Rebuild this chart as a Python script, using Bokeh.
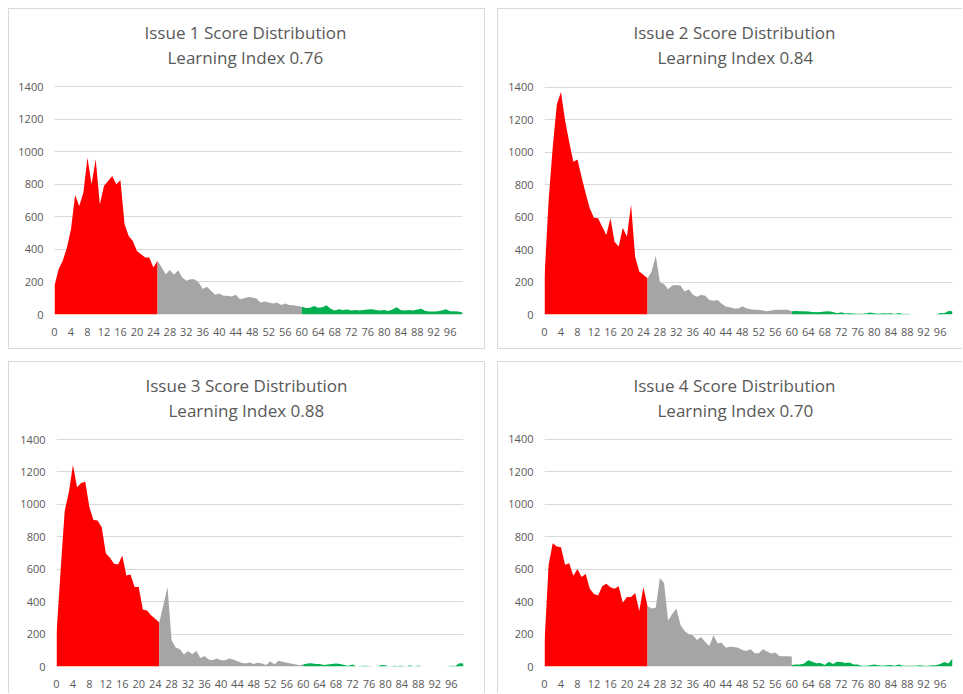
from bokeh.plotting import figure
from bokeh.models import Range1d, FixedTicker, Title
from bokeh.layouts import row, column
from bokeh.embed import file_html
from bokeh.resources import INLINE

# score categories
red_x = list(range(0, 26))
gray_x = list(range(25, 61))
green_x = list(range(60, 100))
x_ticks = list(range(0, 100, 4))
y_ticks = list(range(0, 1401, 200))
y_max = 1400

titles = ["Issue 1 Score Distribution", "Issue 2 Score Distribution",
          "Issue 3 Score Distribution", "Issue 4 Score Distribution"]
subtitles = ["Learning Index 0.76", "Learning Index 0.84",
             "Learning Index 0.88", "Learning Index 0.70"]

# Issue 1
red1 = [176, 278, 330, 411, 524, 735, 667, 749, 964, 800, 954, 677, 790, 821, 851, 800,
        825, 555, 483, 452, 391, 370, 350, 350, 289, 330]
gray1 = [330, 289, 248, 274, 244, 272, 227, 207, 217, 217, 196, 156, 170, 145, 121, 129,
         115, 115, 111, 121, 94, 100, 108, 104, 98, 74, 80, 74, 68, 74, 59, 68, 59, 57, 53, 47]
green1 = [47, 40, 42, 53, 42, 45, 57, 35, 25, 32, 28, 30, 25, 27, 25, 27, 30, 32, 28, 25,
          27, 22, 30, 45, 27, 25, 28, 25, 30, 35, 22, 18, 18, 20, 25, 32, 20, 20, 18, 12]

# Issue 2
red2 = [230, 704, 1032, 1294, 1370, 1195, 1062, 940, 954, 847, 745, 653, 596, 592, 540, 489,
        592, 448, 418, 534, 479, 678, 356, 264, 244, 223]
gray2 = [223, 264, 362, 199, 188, 156, 178, 182, 178, 141, 156, 121, 110, 121, 115, 90,
         84, 90, 66, 49, 45, 37, 37, 51, 39, 33, 29, 29, 25, 20, 25, 29, 29, 29, 29, 20]
green2 = [20, 22, 20, 20, 18, 15, 14, 15, 18, 20, 15, 8, 14, 6, 8, 6, 5, 5, 6, 12,
          8, 5, 8, 6, 8, 3, 10, 3, 5, 2, 0, 0, 0, 0, 0, 0, 10, 8, 22, 20]

# Issue 3
red3 = [203, 592, 961, 1074, 1242, 1105, 1132, 1140, 982, 904, 900, 859, 699, 670, 633, 629,
        685, 562, 568, 490, 490, 351, 346, 316, 295, 271]
gray3 = [271, 380, 490, 162, 117, 107, 74, 96, 76, 96, 53, 64, 43, 39, 49, 39,
         39, 49, 43, 33, 23, 18, 25, 16, 23, 18, 10, 33, 12, 35, 29, 23, 18, 14, 8, 12]
green3 = [12, 18, 20, 15, 15, 10, 12, 15, 18, 15, 10, 5, 12, 0, 3, 5, 3, 0, 0, 10,
          8, 0, 5, 3, 5, 0, 8, 0, 6, 0, 0, 0, 0, 0, 0, 0, 5, 3, 20, 18]

# Issue 4
red4 = [150, 626, 759, 739, 734, 626, 636, 559, 600, 551, 569, 479, 447, 437, 494, 510,
        488, 479, 494, 392, 428, 428, 453, 341, 490, 371]
gray4 = [371, 357, 361, 545, 514, 284, 324, 357, 255, 218, 198, 192, 163, 182, 151, 126,
         192, 143, 147, 116, 122, 120, 116, 102, 96, 106, 82, 82, 106, 92, 80, 86, 65, 63, 63, 61]
green4 = [10, 12, 12, 18, 38, 30, 20, 22, 10, 30, 15, 30, 28, 22, 25, 12, 12, 5, 5, 8,
          12, 8, 5, 8, 10, 5, 12, 5, 5, 5, 5, 8, 5, 5, 8, 8, 15, 28, 18, 50]

RED, GRAY, GREEN = "#ff0000", "#a5a5a5", "#00b050"
TXT = "#595959"
FONT = "Open Sans"


def panel(t1, t2, red, gray, green, w, h, bl, br, ftop, gtop, bb, shadow, off1, off2):
    # frame spans from ftop to (h - bb); the top gridline sits at gtop (pixels)
    fbot = h - bb
    y_end = y_max * (fbot - ftop) / (fbot - gtop)
    p = figure(width=w, height=h, x_range=Range1d(0, 99), y_range=Range1d(0, y_end),
               output_backend="svg", toolbar_location=None, title=None,
               min_border_left=bl, min_border_right=br, min_border_top=ftop, min_border_bottom=bb,
               styles={"background-color": "white", "box-shadow": shadow})
    p.border_fill_color = None
    p.background_fill_color = "white"
    p.outline_line_color = None
    p.varea(x=red_x, y1=0, y2=red, fill_color=RED)
    p.varea(x=gray_x, y1=0, y2=gray, fill_color=GRAY)
    p.varea(x=green_x, y1=0, y2=green, fill_color=GREEN)

    p.add_layout(Title(text=t2, align="left", offset=off2, standoff=0, text_font=FONT,
                       text_font_size="17px", text_color=TXT, text_font_style="normal"), "above")
    p.add_layout(Title(text=t1, align="left", offset=off1, standoff=0, text_font=FONT,
                       text_font_size="17px", text_color=TXT, text_font_style="normal"), "above")

    p.xaxis.ticker = FixedTicker(ticks=x_ticks)
    p.yaxis.ticker = FixedTicker(ticks=y_ticks)
    for ax in (p.xaxis[0], p.yaxis[0]):
        ax.axis_line_color = None
        ax.major_tick_line_color = None
        ax.minor_tick_line_color = None
        ax.major_tick_out = 0
        ax.major_tick_in = 0
        ax.major_label_text_font = FONT
        ax.major_label_text_font_size = "11px"
        ax.major_label_text_color = TXT
    p.xaxis.major_label_standoff = 13
    p.yaxis.major_label_standoff = 11
    p.xgrid.visible = False
    p.ygrid.grid_line_color = "#d9d9d9"
    p.ygrid.grid_line_width = 1
    return p


p1 = panel(titles[0], subtitles[0], red1, gray1, green1, 477, 341, 46, 23, 59, 77.3, 35,
           "inset 0 0 0 1px #d9d9d9", 90, 113)
p2 = panel(titles[1], subtitles[1], red2, gray2, green2, 465, 341, 47, 10, 60, 78.7, 34,
           "inset 1px 1px 0 0 #d9d9d9, inset 0 -1px 0 0 #d9d9d9", 89, 113)
p3 = panel(titles[2], subtitles[2], red3, gray3, green3, 477, 332, 48, 22, 60, 78, 27,
           "inset 1px 1px 0 0 #d9d9d9, inset -1px 0 0 0 #d9d9d9", 89, 112)
p4 = panel(titles[3], subtitles[3], red4, gray4, green4, 465, 332, 47, 10, 59, 76.7, 27,
           "inset 1px 1px 0 0 #d9d9d9", 89, 113)

layout = column(row(p1, p2, spacing=12), row(p3, p4, spacing=12), spacing=12,
                margin=(8, 0, 0, 8))

open("out.html", "w").write(file_html(layout, INLINE))
